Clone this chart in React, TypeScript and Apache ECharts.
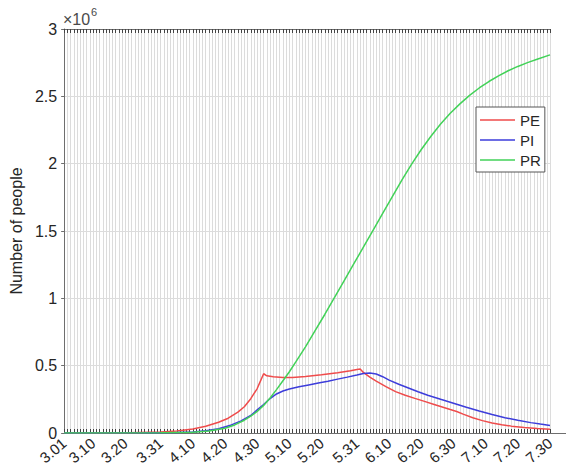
import React, { useEffect, useRef } from "react";
import * as echarts from "echarts";

// Daily categories 3.01 .. 7.30
const MONTHS = [3, 4, 5, 6, 7];
const MONTH_LENGTHS = [31, 30, 31, 30, 30];
const DATES: string[] = MONTHS.flatMap((m, i) =>
  Array.from({ length: MONTH_LENGTHS[i] }, (_, k) => `${m}.${String(k + 1).padStart(2, "0")}`)
);

const TICK_LABELS = [
  "3.01", "3.10", "3.20", "3.31", "4.10", "4.20", "4.30", "5.10",
  "5.20", "5.31", "6.10", "6.20", "6.30", "7.10", "7.20", "7.30",
];

const Y_TICKS = [0, 0.5, 1, 1.5, 2, 2.5, 3];

const PE: [string, number][] = [
  ["3.01", 0], ["3.21", 2000], ["3.31", 8000], ["4.05", 15000], ["4.10", 30000],
  ["4.14", 50000], ["4.18", 80000], ["4.21", 110000], ["4.24", 155000], ["4.26", 195000],
  ["4.28", 255000], ["4.30", 330000], ["5.01", 385000], ["5.02", 440000], ["5.03", 425000],
  ["5.05", 418000], ["5.08", 413000], ["5.11", 413000], ["5.15", 420000], ["5.20", 432000],
  ["5.25", 448000], ["5.29", 462000], ["5.31", 472000], ["6.01", 475000], ["6.02", 450000],
  ["6.04", 415000], ["6.06", 385000], ["6.09", 345000], ["6.12", 307000], ["6.15", 280000],
  ["6.18", 257000], ["6.21", 235000], ["6.24", 212000], ["6.27", 189000], ["6.29", 174000],
  ["7.01", 160000], ["7.03", 140000], ["7.06", 113000], ["7.09", 92000], ["7.12", 75000],
  ["7.15", 62000], ["7.18", 51000], ["7.22", 41000], ["7.26", 33000], ["7.30", 27000],
];

const PI: [string, number][] = [
  ["3.01", 0], ["3.26", 1000], ["3.31", 2000], ["4.05", 4000], ["4.10", 8000],
  ["4.14", 16000], ["4.18", 32000], ["4.22", 60000], ["4.25", 90000], ["4.28", 130000],
  ["4.30", 172000], ["5.02", 212000], ["5.04", 256000], ["5.06", 290000], ["5.08", 312000],
  ["5.10", 327000], ["5.13", 343000], ["5.16", 357000], ["5.19", 371000], ["5.22", 385000],
  ["5.25", 400000], ["5.28", 415000], ["5.31", 431000], ["6.02", 442000], ["6.04", 446000],
  ["6.06", 438000], ["6.08", 418000], ["6.10", 393000], ["6.13", 362000], ["6.16", 334000],
  ["6.19", 306000], ["6.22", 280000], ["6.26", 250000], ["6.30", 221000], ["7.04", 191000],
  ["7.08", 163000], ["7.12", 137000], ["7.16", 114000], ["7.20", 94000], ["7.24", 77000],
  ["7.27", 66000], ["7.30", 56000],
];

const PR: [string, number][] = [
  ["3.01", 0], ["3.31", 1000], ["4.10", 6000], ["4.15", 15000], ["4.20", 35000],
  ["4.23", 60000], ["4.26", 95000], ["4.28", 125000], ["4.30", 160000], ["5.02", 205000],
  ["5.04", 260000], ["5.06", 322000], ["5.08", 388000], ["5.10", 455000], ["5.12", 528000],
  ["5.15", 640000], ["5.18", 760000], ["5.21", 880000], ["5.24", 1005000], ["5.27", 1130000],
  ["5.30", 1255000], ["6.02", 1380000], ["6.05", 1505000], ["6.08", 1630000], ["6.11", 1755000],
  ["6.14", 1880000], ["6.17", 1997000], ["6.20", 2105000], ["6.23", 2204000], ["6.26", 2294000],
  ["6.29", 2374000], ["7.02", 2444000], ["7.05", 2507000], ["7.08", 2562000], ["7.11", 2610000],
  ["7.14", 2652000], ["7.17", 2690000], ["7.20", 2722000], ["7.23", 2750000], ["7.26", 2775000],
  ["7.30", 2808000],
];

const SERIES = [
  { name: "PE", data: PE, color: "#ef4b4b" },
  { name: "PI", data: PI, color: "#3d3ddb" },
  { name: "PR", data: PR, color: "#42d258" },
];

const FONT = "'Liberation Sans', Arial, sans-serif";
const TEXT = "#262626";
const AXIS = "#6e6e6e";
const GRID = "#dcdcdc";
const LINE_ICON = "path://M0,0H35V1.5H0Z";

export default function App() {
  const ref = useRef<HTMLDivElement>(null);
  useEffect(() => {
    if (!ref.current) return;
    const chart = echarts.init(ref.current, undefined, { renderer: "svg" });
    chart.setOption({
      animation: false,
      backgroundColor: "#ffffff",
      textStyle: { fontFamily: FONT },
      grid: { left: 63, right: 16, top: 29, bottom: 43, containLabel: false },
      legend: {
        orient: "vertical",
        left: 476,
        top: 107,
        itemWidth: 35,
        itemHeight: 2,
        itemGap: 4,
        padding: [5, 4, 4, 4],
        borderColor: "#555",
        borderWidth: 1,
        borderRadius: 0,
        backgroundColor: "#fff",
        textStyle: { fontSize: 15, color: TEXT, fontFamily: FONT, lineHeight: 16 },
        data: SERIES.map((s) => ({ name: s.name, icon: LINE_ICON })),
      },
      xAxis: [
        {
          type: "category",
          data: DATES,
          boundaryGap: false,
          position: "bottom",
          axisLine: { show: true, lineStyle: { color: AXIS, width: 1 } },
          axisTick: { show: true, inside: true, length: 4, interval: 0, lineStyle: { color: "#444" } },
          axisLabel: {
            interval: (_i: number, v: string) => TICK_LABELS.includes(v),
            rotate: 40,
            fontSize: 15,
            color: TEXT,
            margin: 8,
            fontFamily: FONT,
          },
          splitLine: { show: true, interval: 0, lineStyle: { color: GRID, width: 1 } },
        },
        {
          type: "category",
          data: DATES,
          boundaryGap: false,
          position: "top",
          axisLine: { show: true, lineStyle: { color: AXIS, width: 1 } },
          axisTick: { show: true, inside: true, length: 4, interval: 0, lineStyle: { color: "#444" } },
          axisLabel: { show: false },
          splitLine: { show: false },
        },
      ],
      yAxis: {
        type: "value",
        min: 0,
        max: 3000000,
        interval: 500000,
        axisLine: { show: true, lineStyle: { color: AXIS, width: 1 } },
        axisTick: { show: true, length: 3, lineStyle: { color: AXIS } },
        axisLabel: {
          formatter: (v: number) => {
            const t = v / 1e6;
            return Y_TICKS.includes(t) ? String(t) : "";
          },
          fontSize: 16,
          color: TEXT,
          margin: 7,
          fontFamily: FONT,
        },
        splitLine: { show: true, lineStyle: { color: GRID, width: 1 } },
        name: "Number of people",
        nameLocation: "middle",
        nameGap: 38,
        nameTextStyle: { fontSize: 16, color: TEXT, fontFamily: FONT },
      },
      graphic: [
        {
          type: "text",
          left: 63,
          top: 11,
          style: { text: "×10", fontSize: 16, fill: "#4a4a4a", fontFamily: FONT },
        },
        {
          type: "text",
          left: 91,
          top: 6,
          style: { text: "6", fontSize: 11, fill: "#4a4a4a", fontFamily: FONT },
        },
        {
          type: "line",
          shape: { x1: 550, y1: 433.5, x2: 566, y2: 433.5 },
          style: { stroke: AXIS, lineWidth: 1 },
        },
      ],
      series: SERIES.map((s) => ({
        name: s.name,
        type: "line",
        xAxisIndex: 0,
        data: s.data,
        symbol: "none",
        showSymbol: false,
        lineStyle: { color: s.color, width: 1.5 },
        itemStyle: { color: s.color },
        z: 3,
      })),
    });
    return () => chart.dispose();
  }, []);
  return (
    <div
      ref={ref}
      style={{ position: "fixed", left: 0, top: 0, width: 566, height: 476, background: "#fff" }}
    />
  );
}
